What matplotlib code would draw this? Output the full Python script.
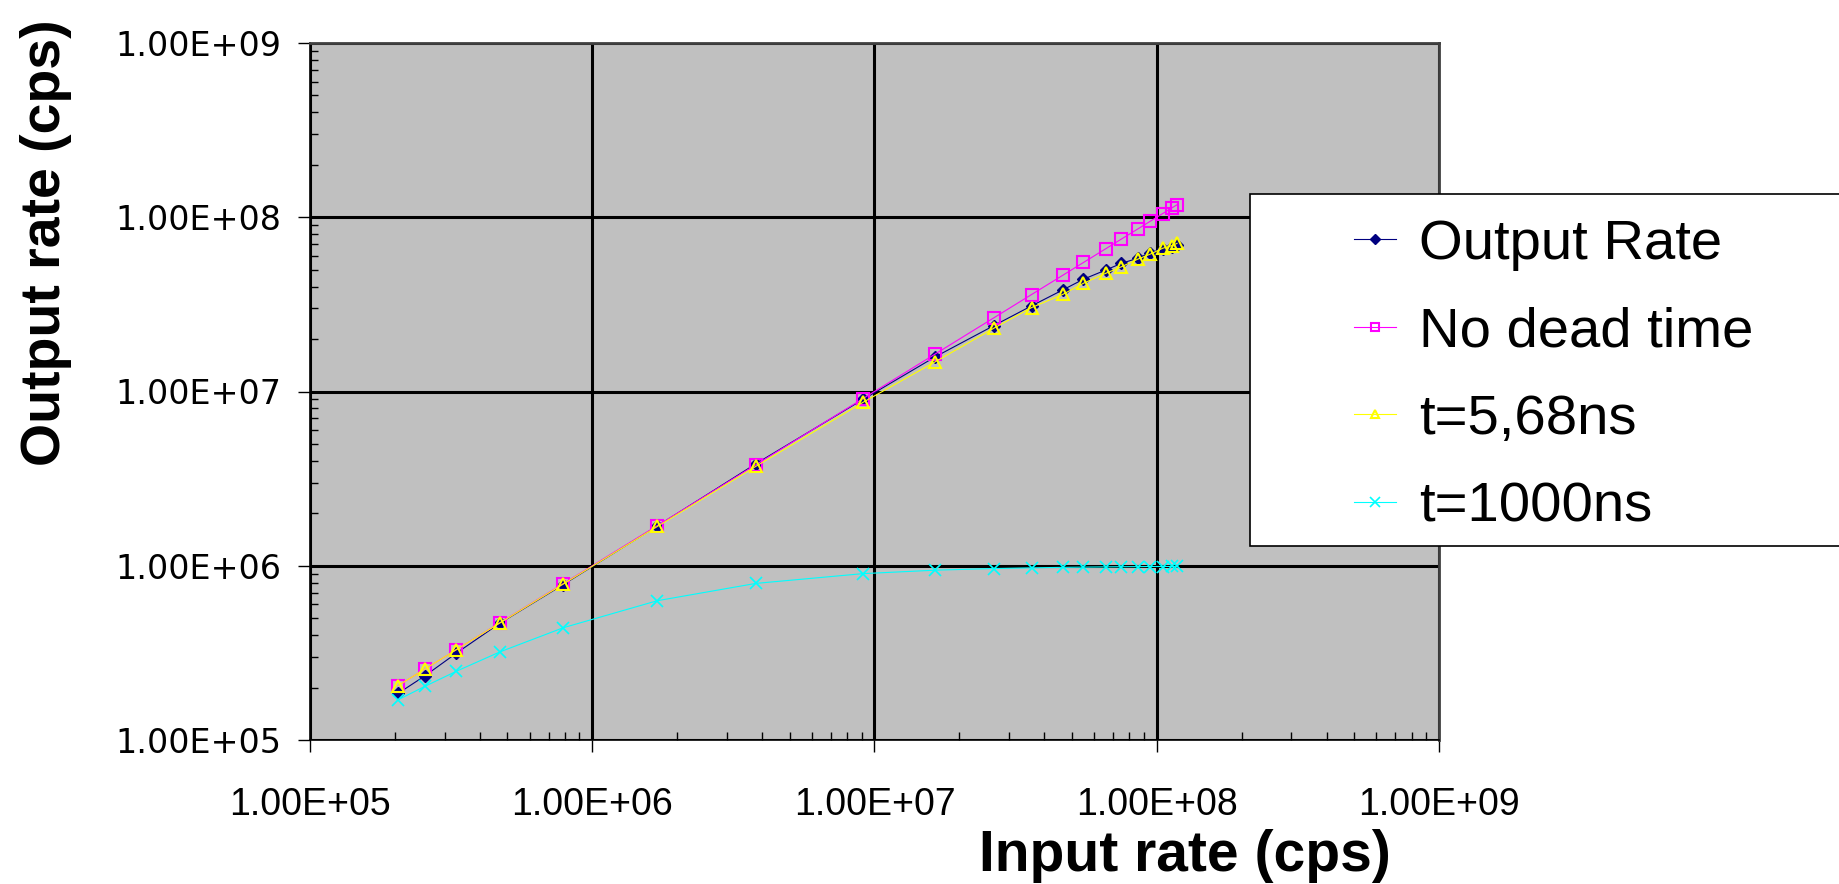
import matplotlib.pyplot as plt
from matplotlib.patches import Rectangle
from matplotlib.ticker import LogLocator, NullFormatter

# Count rates (cps) for each measurement point
input_rate = [2.05e5, 2.55e5, 3.3e5, 4.7e5, 7.9e5, 1.7e6, 3.8e6, 9.1e6, 1.64e7, 2.65e7,
              3.6e7, 4.65e7, 5.5e7, 6.6e7, 7.5e7, 8.55e7, 9.5e7, 1.05e8, 1.13e8, 1.18e8]
output_rate = [1.85e5, 2.33e5, 3.15e5, 4.67e5, 7.8e5, 1.69e6, 3.85e6, 9.0e6, 1.58e7, 2.39e7,
               3.10e7, 3.83e7, 4.41e7, 4.98e7, 5.44e7, 5.81e7, 6.26e7, 6.58e7, 6.78e7, 6.93e7]
no_dead_time = [2.05e5, 2.55e5, 3.3e5, 4.7e5, 7.9e5, 1.7e6, 3.8e6, 9.1e6, 1.64e7, 2.65e7,
                3.6e7, 4.65e7, 5.5e7, 6.6e7, 7.5e7, 8.55e7, 9.5e7, 1.05e8, 1.13e8, 1.18e8]
dead_568ns = [2.05e5, 2.55e5, 3.3e5, 4.69e5, 7.86e5, 1.68e6, 3.72e6, 8.66e6, 1.48e7, 2.31e7,
              3.03e7, 3.61e7, 4.18e7, 4.77e7, 5.20e7, 5.74e7, 6.15e7, 6.64e7, 6.87e7, 7.08e7]
dead_1000ns = [1.70e5, 2.03e5, 2.48e5, 3.20e5, 4.41e5, 6.30e5, 7.92e5, 9.01e5, 9.43e5, 9.64e5,
               9.73e5, 9.79e5, 9.82e5, 9.85e5, 9.87e5, 9.88e5, 9.90e5, 9.90e5, 9.91e5, 9.92e5]

series_labels = ["Output Rate", "No dead time", "t=5,68ns", "t=1000ns"]
decades = [1e5, 1e6, 1e7, 1e8, 1e9]
decade_labels = ["1.00E+05", "1.00E+06", "1.00E+07", "1.00E+08", "1.00E+09"]

W, H = 1840, 884
fig = plt.figure(figsize=(W / 100, H / 100), dpi=100)
ax = fig.add_axes([310 / W, 1 - 740 / H, 1129 / W, 697 / H])
ax.set_facecolor("#c0c0c0")
ax.set_xscale("log")
ax.set_yscale("log")

l1, = ax.plot(input_rate, output_rate, color="#000080", lw=0.8, marker="D", ms=6.5,
              mfc="#000080", mec="#000080", mew=1)
l2, = ax.plot(input_rate, no_dead_time, color="#ff00ff", lw=0.8, marker="s", ms=8,
              mfc="none", mec="#ff00ff", mew=1.5)
l3, = ax.plot(input_rate, dead_568ns, color="#ffff00", lw=0.8, marker="^", ms=8.5,
              mfc="none", mec="#ffff00", mew=1.5)
l4, = ax.plot(input_rate, dead_1000ns, color="#00ffff", lw=0.8, marker="x", ms=9,
              mec="#00ffff", mew=1.2)

ax.set_xlim(1e5, 1e9)
ax.set_ylim(1e5, 1e9)
ax.set_xticks(decades, decade_labels)
ax.set_yticks(decades, decade_labels)
ax.xaxis.set_minor_locator(LogLocator(base=10, subs=range(2, 10)))
ax.yaxis.set_minor_locator(LogLocator(base=10, subs=range(2, 10)))
ax.xaxis.set_minor_formatter(NullFormatter())
ax.yaxis.set_minor_formatter(NullFormatter())

# Heavy black grid on each decade, under the data
ax.set_axisbelow(True)
ax.grid(True, which="major", color="black", lw=2.2)

for side in ["left", "bottom"]:
    ax.spines[side].set_color("black")
    ax.spines[side].set_linewidth(1.2)
for side in ["top", "right"]:
    ax.spines[side].set_color("#404040")
    ax.spines[side].set_linewidth(2)

ax.tick_params(which="major", direction="out", length=8.6, width=1, color="black")
ax.tick_params(which="minor", direction="in", length=6, width=1, color="black")
ax.tick_params(axis="x", which="major", pad=25)
ax.tick_params(axis="y", which="major", pad=12)

for lbl in ax.get_xticklabels():
    lbl.set_family("Liberation Sans")
    lbl.set_fontsize(27)
for lbl in ax.get_yticklabels():
    lbl.set_family("DejaVu Sans")
    lbl.set_fontsize(24)

# Axis titles
fig.text(1185 / W, 1 - 856 / H, "Input rate (cps)", ha="center", va="center",
         fontsize=41, fontweight="bold", family="Liberation Sans")
fig.text(46 / W, 1 - 243 / H, "Output rate (cps)", ha="center", va="center", rotation=90,
         fontsize=40, fontweight="bold", family="Liberation Sans")

# Legend box runs off the right edge of the figure
box = Rectangle((1250 / W, 1 - 546 / H), 600 / W, 352 / H, transform=fig.transFigure,
                facecolor="white", edgecolor="black", lw=1.2, zorder=3, clip_on=False)
fig.add_artist(box)
leg = fig.legend([l1, l2, l3, l4], series_labels, loc="upper left",
                 bbox_to_anchor=(1354 / W, 1 - 219 / H), frameon=False,
                 prop={"family": "Liberation Sans", "size": 40.5},
                 handlelength=0.75, handletextpad=0.41, labelspacing=0.63,
                 borderpad=0, borderaxespad=0, markerscale=0.75)
leg.set_zorder(4)

fig.savefig("out.png", dpi=100)
